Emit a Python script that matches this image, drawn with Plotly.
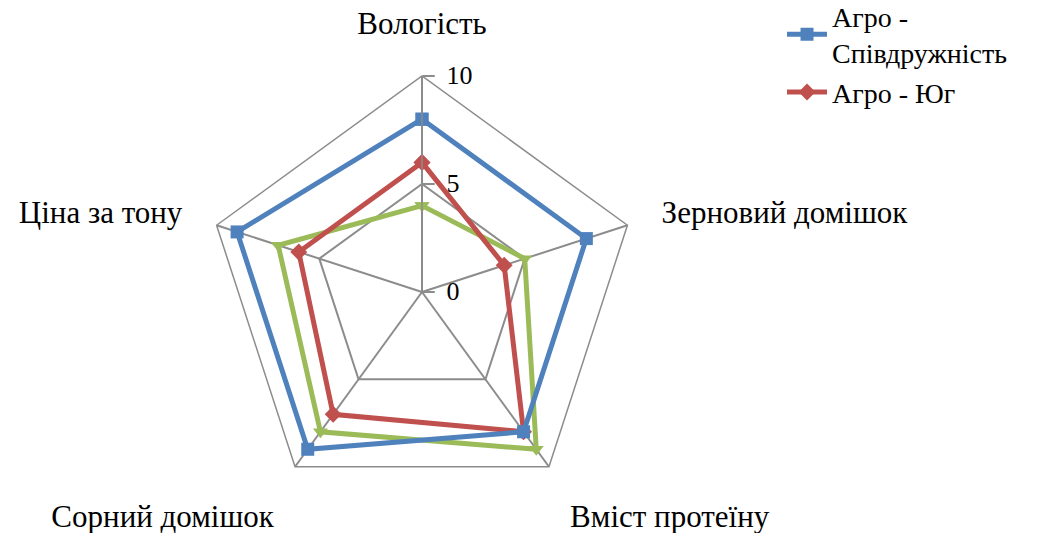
import plotly.graph_objects as go

# Criteria (clockwise from the top)
categories = ["Вологість", "Зерновий домішок", "Вміст протеїну", "Сорний домішок", "Ціна за тону"]

# Scores per company, 0–10 scale
agro_spivdruzhnist = [8, 8, 8, 9, 9]
agro_yug = [6, 4, 8, 7, 6]
agro_third = [4, 5, 9, 8, 7]

radial_ticks = [0, 5, 10]

FONT = "Liberation Serif"
GRID = "#8c8c8c"


def closed(vals):
    return list(vals) + [vals[0]]


fig = go.Figure()

series = [
    ("Агро -<br>Співдружність", agro_spivdruzhnist, "#4F81BD", "square", True),
    ("Агро - Юг", agro_yug, "#C0504D", "diamond", True),
    ("Агро", agro_third, "#9BBB59", "triangle-down", False),
]

for name, vals, color, symbol, show in reversed(series):
    fig.add_trace(go.Scatterpolar(
        r=closed(vals),
        theta=closed(categories),
        mode="lines+markers",
        name=name,
        showlegend=show,
        line=dict(color=color, width=5),
        marker=dict(symbol=symbol, size=13, color=color),
    ))

cx, cy, R = 422, 292, 216
W, H = 1042, 533

fig.update_layout(
    width=W,
    height=H,
    margin=dict(l=0, r=0, t=0, b=0, autoexpand=False),
    paper_bgcolor="white",
    plot_bgcolor="white",
    font=dict(family=FONT, size=31, color="black"),
    polar=dict(
        domain=dict(x=[(cx - R) / W, (cx + R) / W], y=[(H - cy - R) / H, (H - cy + R) / H]),
        bgcolor="white",
        gridshape="linear",
        radialaxis=dict(
            range=[0, 10],
            tickvals=radial_ticks,
            ticktext=["\u00a0" + str(v) for v in radial_ticks],
            angle=90,
            tickangle=90,
            side="clockwise",
            showline=True,
            linecolor=GRID,
            linewidth=1.5,
            gridcolor=GRID,
            gridwidth=1.5,
            ticks="outside",
            ticklen=12,
            tickwidth=1.5,
            tickcolor=GRID,
            tickfont=dict(family=FONT, size=26, color="black"),
        ),
        angularaxis=dict(
            direction="clockwise",
            rotation=90,
            showline=True,
            linecolor=GRID,
            linewidth=1.5,
            gridcolor=GRID,
            gridwidth=1.5,
            ticks="outside",
            ticklen=29,
            tickcolor="rgba(0,0,0,0)",
            tickfont=dict(family=FONT, size=31, color="black"),
        ),
    ),
    legend=dict(
        x=0.7505,
        y=1.016,
        xanchor="left",
        yanchor="top",
        traceorder="reversed",
        font=dict(family=FONT, size=28, color="black"),
        bgcolor="rgba(0,0,0,0)",
        itemwidth=40,
        tracegroupgap=0,
    ),
)

fig.write_html("out.html")
